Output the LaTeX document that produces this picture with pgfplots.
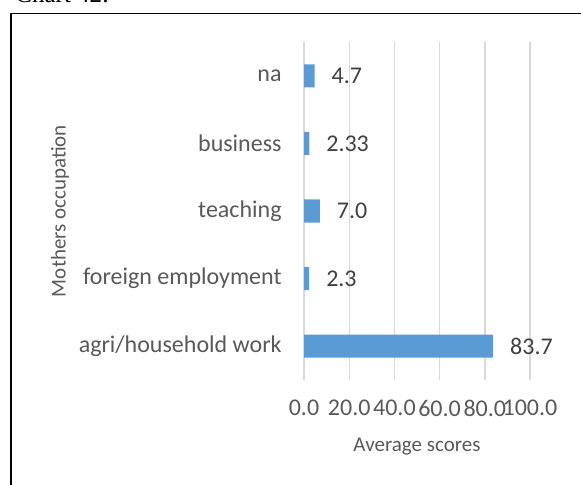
\documentclass[border=0pt]{standalone}
\usepackage{pgfplots}
\pgfplotsset{compat=1.18}
\usepackage{fontspec}
\setmainfont{Carlito}
\newfontfamily\serifx{Liberation Serif}
\definecolor{barblue}{HTML}{5B9BD5}
\definecolor{gridgray}{HTML}{D9D9D9}
\definecolor{ticktext}{HTML}{595959}
\definecolor{labeltext}{HTML}{404040}
\begin{document}
\begin{tikzpicture}
\useasboundingbox (0pt,0pt) rectangle (290.5pt,-242.5pt);
\clip (0pt,0pt) rectangle (290.5pt,-242.5pt);
\node[anchor=base west,inner sep=0pt,font=\serifx\fontsize{12.5}{14}\selectfont] at (7.5pt,-1.3pt) {Chart 42:};
\draw[line width=0.7pt] (5.5pt,-260pt) -- (5.5pt,-6.8pt) -- (300pt,-6.8pt);
\begin{axis}[
  at={(152pt,-190pt)}, anchor=south west,
  scale only axis, width=113pt, height=169pt,
  xmin=0, xmax=100, ymin=-0.5, ymax=4.5,
  xtick={0,20,40,60,80,100},
  xticklabels={0.0,20.0,40.0,60.0,80.0,100.0},
  ytick={0,1,2,3,4},
  yticklabels={agri/household work,foreign employment,teaching,business,na},
  xmajorgrids, major grid style={gridgray,line width=0.7pt},
  axis line style={draw=none},
  major tick length=0pt,
  tick label style={font=\fontsize{12}{14}\selectfont,text=ticktext},
  xticklabel style={inner sep=0pt,yshift=-10pt},
  yticklabel style={inner sep=0pt,xshift=-11pt},
  xlabel={Average scores},
  ylabel={Mothers occupation},
  label style={font=\fontsize{10.5}{12}\selectfont,text=ticktext},
  xlabel style={at={(axis description cs:0.5,-0.198)},anchor=center},
  ylabel style={at={(axis description cs:-1.08,0.5)},anchor=center},
  xbar, bar width=11.5pt,
  point meta=explicit symbolic,
  nodes near coords,
  nodes near coords style={font=\fontsize{12}{14}\selectfont,text=labeltext,anchor=west,xshift=5pt},
  clip=false,
]
\addplot[fill=barblue,draw=none] table[meta=lab] {
x y lab
83.7 0 83.7
2.3 1 2.3
7.0 2 7.0
2.33 3 2.33
4.7 4 4.7
};
\end{axis}
\end{tikzpicture}
\end{document}
